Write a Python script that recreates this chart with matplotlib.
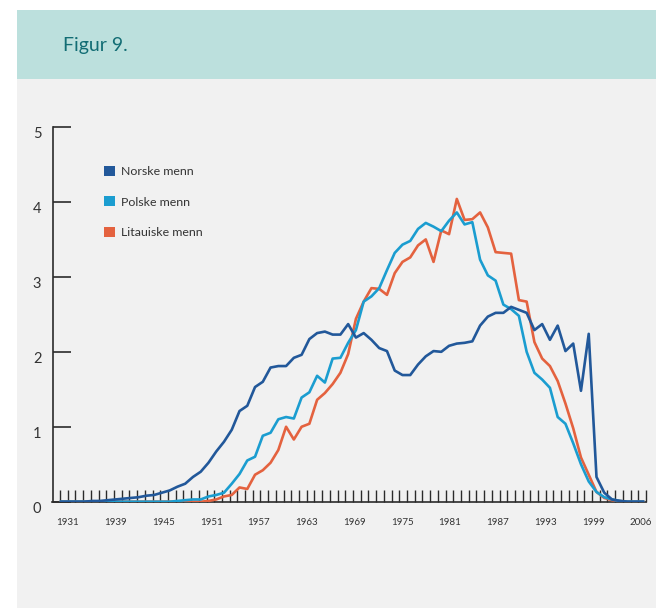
import matplotlib
matplotlib.use("Agg")
import matplotlib.pyplot as plt
import matplotlib.transforms as mtransforms
from matplotlib.patches import Rectangle, Patch
import numpy as np

plt.rcParams['font.family'] = ['Lato', 'DejaVu Sans']

# --- data ---
years = np.arange(1931, 2007)

norske = [0.00, 0.00, 0.00, 0.00, 0.01, 0.01, 0.02, 0.03, 0.04,           # 1931-39
          0.05, 0.06, 0.08, 0.09, 0.12, 0.15, 0.20, 0.24, 0.33, 0.40,     # 1940-49
          0.52, 0.67, 0.80, 0.96, 1.21, 1.28, 1.53, 1.60, 1.79, 1.81,     # 1950-59
          1.81, 1.92, 1.96, 2.17, 2.25, 2.27, 2.23, 2.23, 2.37, 2.19,     # 1960-69
          2.25, 2.16, 2.05, 2.01, 1.75, 1.69, 1.69, 1.83, 1.94, 2.01,     # 1970-79
          2.00, 2.08, 2.11, 2.12, 2.14, 2.35, 2.47, 2.52, 2.52, 2.60,     # 1980-89
          2.56, 2.52, 2.29, 2.37, 2.16, 2.35, 2.01, 2.11, 1.48, 2.24,     # 1990-99
          0.33, 0.12, 0.03, 0.01, 0.00, 0.00, 0.00]                       # 2000-06

polske = [0.00, 0.00, 0.00, 0.00, 0.00, 0.00, 0.00, 0.00, 0.00,
          0.00, 0.00, 0.00, 0.00, 0.00, 0.00, 0.01, 0.02, 0.03, 0.03,
          0.07, 0.09, 0.12, 0.24, 0.37, 0.55, 0.60, 0.88, 0.92, 1.10,
          1.13, 1.11, 1.39, 1.46, 1.68, 1.59, 1.91, 1.92, 2.12, 2.29,
          2.67, 2.74, 2.85, 3.09, 3.32, 3.43, 3.48, 3.64, 3.72, 3.67,
          3.61, 3.75, 3.86, 3.70, 3.73, 3.23, 3.02, 2.95, 2.63, 2.57,
          2.48, 2.00, 1.72, 1.63, 1.52, 1.13, 1.04, 0.78, 0.50, 0.27,
          0.13, 0.06, 0.03, 0.01, 0.00, 0.00, 0.00]

litauiske = [0.00, 0.00, 0.00, 0.00, 0.00, 0.00, 0.00, 0.00, 0.00,
             0.00, 0.00, 0.00, 0.00, 0.00, 0.00, 0.00, 0.00, 0.00, 0.00,
             0.01, 0.03, 0.07, 0.09, 0.19, 0.17, 0.36, 0.42, 0.52, 0.69,
             1.00, 0.83, 1.00, 1.04, 1.36, 1.45, 1.57, 1.72, 1.97, 2.44,
             2.67, 2.85, 2.84, 2.76, 3.05, 3.20, 3.26, 3.42, 3.50, 3.20,
             3.62, 3.57, 4.04, 3.76, 3.77, 3.86, 3.66, 3.33, 3.32, 3.31,
             2.69, 2.67, 2.13, 1.91, 1.81, 1.61, 1.31, 0.98, 0.59, 0.36,
             0.13, 0.05, 0.02, 0.01, 0.00, 0.00, 0.00]

labels = ['Norske menn', 'Polske menn', 'Litauiske menn']
colors = ['#22589a', '#1b9dd0', '#e4623f']
xlabels = ['1931', '1939', '1945', '1951', '1957', '1963', '1969',
           '1975', '1981', '1987', '1993', '1999', '2006']

W, H = 656, 608
fig = plt.figure(figsize=(W / 100, H / 100), dpi=100)
fig.patch.set_facecolor('white')

# background panels
fig.add_artist(Rectangle((17 / W, 0), 1 - 17 / W, 1 - 79 / H,
                         transform=fig.transFigure, facecolor='#f1f1f1',
                         edgecolor='none', zorder=0))
fig.add_artist(Rectangle((17 / W, 1 - 79 / H), 1 - 17 / W, 69 / H,
                         transform=fig.transFigure, facecolor='#bce0dd',
                         edgecolor='none', zorder=0))
fig.text(63 / W, 1 - 45 / H, 'Figur 9.', color='#126d74', fontsize=14,
         va='center', ha='left')

# axes: left spine at x=52.5px, bottom at y=501.7px, top (=5) at y=127px
ax = fig.add_axes([52.5 / W, 1 - 501.7 / H, (646 - 52.5) / W, (501.7 - 127) / H])
ax.set_facecolor('none')

for vals, c in zip([litauiske, polske, norske], colors[::-1]):
    ax.plot(years, vals, color=c, lw=1.9, solid_joinstyle='round', zorder=3)

ax.set_xlim(1929.9, 2006.38)
ax.set_ylim(0, 5)
for s in ['top', 'right']:
    ax.spines[s].set_visible(False)
for s in ['left', 'bottom']:
    ax.spines[s].set_color('#2b2b2b')
    ax.spines[s].set_linewidth(1.2)

# y ticks
ax.set_yticks(range(6))
ax.tick_params(axis='y', direction='in', length=13, width=1.2, color='#2b2b2b',
               pad=8, labelsize=10.5, labelcolor='#333333')
off = mtransforms.ScaledTranslation(0, -4 / 72, fig.dpi_scale_trans)
for t in ax.get_yticklabels():
    t.set_transform(t.get_transform() + off)

# x: small tick marks every year, labels separately
ax.set_xticks(np.linspace(1930.87, 2006.38, 77), minor=True)
ax.tick_params(axis='x', which='minor', direction='in', length=9, width=1.0,
               color='#2b2b2b')
ax.set_xticks(np.linspace(1931.9, 2005.7, len(xlabels)))
ax.set_xticklabels(xlabels)
ax.tick_params(axis='x', which='major', length=0, pad=11.5, labelsize=7,
               labelcolor='#333333')

handles = [Patch(facecolor=c, edgecolor='none') for c in colors]
ax.legend(handles, labels, loc='upper left',
          bbox_to_anchor=(104 / W, 1 - 166 / H), bbox_transform=fig.transFigure,
          frameon=False, fontsize=8.9, handlelength=0.85, handleheight=0.85,
          handletextpad=0.55, labelspacing=1.55, borderpad=0, borderaxespad=0,
          labelcolor='#333333')

fig.savefig('out.png', dpi=100)
